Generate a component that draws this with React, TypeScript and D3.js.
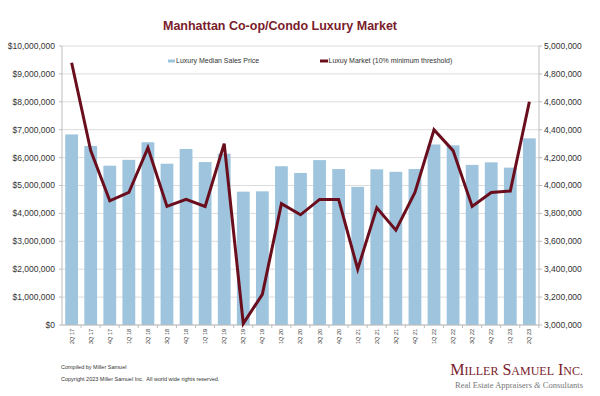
import React from 'react';
import * as d3 from 'd3';

const quarters = [
  '2Q 17', '3Q 17', '4Q 17', '1Q 18', '2Q 18', '3Q 18', '4Q 18', '1Q 19', '2Q 19',
  '3Q 19', '4Q 19', '1Q 20', '2Q 20', '3Q 20', '4Q 20', '1Q 21', '2Q 21', '3Q 21',
  '4Q 21', '1Q 22', '2Q 22', '3Q 22', '4Q 22', '1Q 23', '2Q 23',
];

// Luxury Median Sales Price (left axis)
const medianPrice = [
  6830000, 6420000, 5710000, 5920000, 6550000, 5780000, 6310000, 5840000, 6140000,
  4780000, 4790000, 5690000, 5450000, 5910000, 5590000, 4950000, 5580000, 5490000,
  5590000, 6470000, 6440000, 5740000, 5830000, 5640000, 6690000,
];

// Luxury market threshold (right axis)
const threshold = [
  4880000, 4250000, 3890000, 3950000, 4270000, 3850000, 3900000, 3850000, 4300000,
  3010000, 3220000, 3870000, 3790000, 3900000, 3900000, 3400000, 3840000, 3680000,
  3950000, 4400000, 4250000, 3850000, 3950000, 3960000, 4600000,
];

const leftTicks = d3.range(0, 10000001, 1000000);
const rightTicks = d3.range(3000000, 5000001, 200000);

const W = 600;
const H = 396;
const m = { left: 62, right: 539, top: 46, bottom: 325 };

const barColor = '#9ec5dd';
const lineColor = '#6a0e1e';
const titleColor = '#7a1c2b';
const font = 'Arial, "Liberation Sans", sans-serif';

const App: React.FC = () => {
  const x = d3.scaleBand<string>().domain(quarters).range([m.left, m.right]).paddingInner(0.33).paddingOuter(0.17);
  const yL = d3.scaleLinear().domain([0, 10000000]).range([m.bottom, m.top]);
  const yR = d3.scaleLinear().domain([3000000, 5000000]).range([m.bottom, m.top]);
  const fmtL = (v: number) => '$' + d3.format(',')(v);
  const fmtR = d3.format(',');
  const step = x.step();

  const line = d3
    .line<number>()
    .x((_, i) => x(quarters[i])! + x.bandwidth() / 2)
    .y((d) => yR(d));

  return (
    <svg width={W} height={H} style={{ position: 'absolute', left: 0, top: 0, background: '#fff' }} fontFamily={font}>
      <text x={280} y={30} textAnchor="middle" fontSize={12.5} fontWeight="bold" fill={titleColor}>
        Manhattan Co-op/Condo Luxury Market
      </text>

      {/* gridlines */}
      {leftTicks.map((t) => (
        <line key={t} x1={m.left} x2={m.right} y1={yL(t)} y2={yL(t)} stroke="#dcdcdc" strokeWidth={1} />
      ))}

      {/* bars */}
      {quarters.map((q, i) => (
        <rect key={q} x={x(q)} y={yL(medianPrice[i])} width={x.bandwidth()} height={yL(0) - yL(medianPrice[i])} fill={barColor} />
      ))}

      {/* axes */}
      <line x1={m.left} x2={m.left} y1={m.top} y2={m.bottom} stroke="#bdbdbd" />
      <line x1={m.right} x2={m.right} y1={m.top} y2={m.bottom} stroke="#bdbdbd" />
      <line x1={m.left} x2={m.right} y1={m.bottom} y2={m.bottom} stroke="#bdbdbd" />
      {quarters.map((q, i) => (
        <line key={q} x1={m.left + step * (i + 1)} x2={m.left + step * (i + 1)} y1={m.bottom} y2={m.bottom + 3} stroke="#bdbdbd" />
      ))}
      {leftTicks.map((t) => (
        <line key={t} x1={m.left - 3} x2={m.left} y1={yL(t)} y2={yL(t)} stroke="#bdbdbd" />
      ))}
      {rightTicks.map((t) => (
        <line key={t} x1={m.right} x2={m.right + 3} y1={yR(t)} y2={yR(t)} stroke="#bdbdbd" />
      ))}

      {leftTicks.map((t) => (
        <text key={t} x={m.left - 7} y={yL(t)} dy="0.35em" textAnchor="end" fontSize={8.5} fill="#333">
          {fmtL(t)}
        </text>
      ))}
      {rightTicks.map((t) => (
        <text key={t} x={m.right + 5} y={yR(t)} dy="0.35em" textAnchor="start" fontSize={8.5} fill="#333">
          {fmtR(t)}
        </text>
      ))}
      {quarters.map((q) => {
        const cx = x(q)! + x.bandwidth() / 2;
        return (
          <text key={q} transform={`translate(${cx},${m.bottom + 4}) rotate(-90)`} dy="0.35em" textAnchor="end" fontSize={5.5} fill="#333">
            {q}
          </text>
        );
      })}

      {/* threshold line */}
      <path d={line(threshold)!} fill="none" stroke={lineColor} strokeWidth={3} strokeLinejoin="miter" />

      {/* legend */}
      <rect x={168} y={59.5} width={7} height={3} fill={barColor} />
      <text x={176} y={61} dy="0.35em" fontSize={7} fill="#333">Luxury Median Sales Price</text>
      <line x1={320} x2={328} y1={61} y2={61} stroke={lineColor} strokeWidth={3} />
      <text x={328.5} y={61} dy="0.35em" fontSize={7} fill="#333">Luxuy Market (10% minimum threshold)</text>

      {/* footer */}
      <text x={61} y={369} fontSize={5.5} fill="#333">Compiled by Miller Samuel</text>
      <text x={61} y={381} fontSize={5.5} fill="#333" style={{ whiteSpace: 'pre' }}>
        Copyright 2023 Miller Samuel Inc.  All world wide rights reserved.
      </text>

      <text x={583} y={375} textAnchor="end" fontFamily='"Liberation Serif", "DejaVu Serif", serif' fill="#7a1c2b" fontSize={16}>
        M<tspan fontSize={12}>ILLER</tspan> S<tspan fontSize={12}>AMUEL</tspan> I<tspan fontSize={12}>NC.</tspan>
      </text>
      <text x={583} y={388} textAnchor="end" fontFamily='"Liberation Serif", "DejaVu Serif", serif' fill="#777" fontSize={8.5}>
        Real Estate Appraisers <tspan fontStyle="italic">&amp;</tspan> Consultants
      </text>
    </svg>
  );
};

export default App;
